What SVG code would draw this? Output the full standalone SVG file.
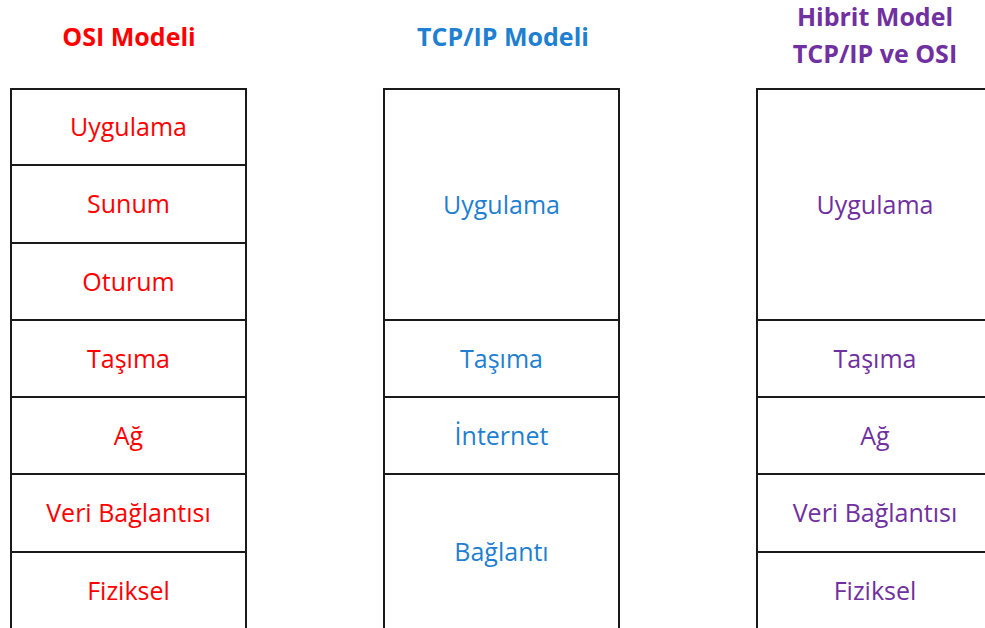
<svg xmlns="http://www.w3.org/2000/svg" width="985" height="628" viewBox="0 0 985 628">
  <style>
    .cell { fill: #ffffff; stroke: #1a1a1a; stroke-width: 2; }
    .lbl { font-family: "Open Sans", "Liberation Sans", sans-serif; font-size: 25px; text-anchor: middle; }
    .hdr { font-family: "Open Sans", "Liberation Sans", sans-serif; font-size: 25px; font-weight: bold; text-anchor: middle; }
    .osi { fill: #ff0000; }
    .tcp { fill: #1f7fd0; }
    .hyb { fill: #7030a0; }
  </style>
  <rect width="985" height="628" fill="#ffffff"/>

  <!-- column headings -->
  <g id="headers">
    <text class="hdr osi" x="129" y="46">OSI Modeli</text>
    <text class="hdr tcp" x="503" y="46">TCP/IP Modeli</text>
    <text class="hdr hyb" x="875" y="26">Hibrit Model</text>
    <text class="hdr hyb" x="875" y="63">TCP/IP ve OSI</text>
  </g>

  <!-- OSI stack: seven layers -->
  <g id="osi">
    <g id="osi-uygulama"><rect class="cell" x="11" y="89" width="235" height="76"/><text class="lbl osi" x="128.5" y="136">Uygulama</text></g>
    <g id="osi-sunum"><rect class="cell" x="11" y="165" width="235" height="78"/><text class="lbl osi" x="128.5" y="213">Sunum</text></g>
    <g id="osi-oturum"><rect class="cell" x="11" y="243" width="235" height="77"/><text class="lbl osi" x="128.5" y="291">Oturum</text></g>
    <g id="osi-tasima"><rect class="cell" x="11" y="320" width="235" height="77"/><text class="lbl osi" x="128.5" y="368">Taşıma</text></g>
    <g id="osi-ag"><rect class="cell" x="11" y="397" width="235" height="77"/><text class="lbl osi" x="128.5" y="445">Ağ</text></g>
    <g id="osi-veri"><rect class="cell" x="11" y="474" width="235" height="78"/><text class="lbl osi" x="128.5" y="522">Veri Bağlantısı</text></g>
    <g id="osi-fiziksel"><rect class="cell" x="11" y="552" width="235" height="80"/><text class="lbl osi" x="128.5" y="600">Fiziksel</text></g>
  </g>

  <!-- TCP/IP stack: four layers -->
  <g id="tcpip">
    <g id="tcp-uygulama"><rect class="cell" x="384" y="89" width="235" height="231"/><text class="lbl tcp" x="501.5" y="214">Uygulama</text></g>
    <g id="tcp-tasima"><rect class="cell" x="384" y="320" width="235" height="77"/><text class="lbl tcp" x="501.5" y="368">Taşıma</text></g>
    <g id="tcp-internet"><rect class="cell" x="384" y="397" width="235" height="77"/><text class="lbl tcp" x="501.5" y="445">İnternet</text></g>
    <g id="tcp-baglanti"><rect class="cell" x="384" y="474" width="235" height="158"/><text class="lbl tcp" x="501.5" y="561">Bağlantı</text></g>
  </g>

  <!-- Hybrid stack: five layers -->
  <g id="hibrit">
    <g id="hyb-uygulama"><rect class="cell" x="757" y="89" width="235" height="231"/><text class="lbl hyb" x="875" y="214">Uygulama</text></g>
    <g id="hyb-tasima"><rect class="cell" x="757" y="320" width="235" height="77"/><text class="lbl hyb" x="875" y="368">Taşıma</text></g>
    <g id="hyb-ag"><rect class="cell" x="757" y="397" width="235" height="77"/><text class="lbl hyb" x="875" y="445">Ağ</text></g>
    <g id="hyb-veri"><rect class="cell" x="757" y="474" width="235" height="78"/><text class="lbl hyb" x="875" y="522">Veri Bağlantısı</text></g>
    <g id="hyb-fiziksel"><rect class="cell" x="757" y="552" width="235" height="80"/><text class="lbl hyb" x="875" y="600">Fiziksel</text></g>
  </g>

  <g id="connectors"/>
</svg>
